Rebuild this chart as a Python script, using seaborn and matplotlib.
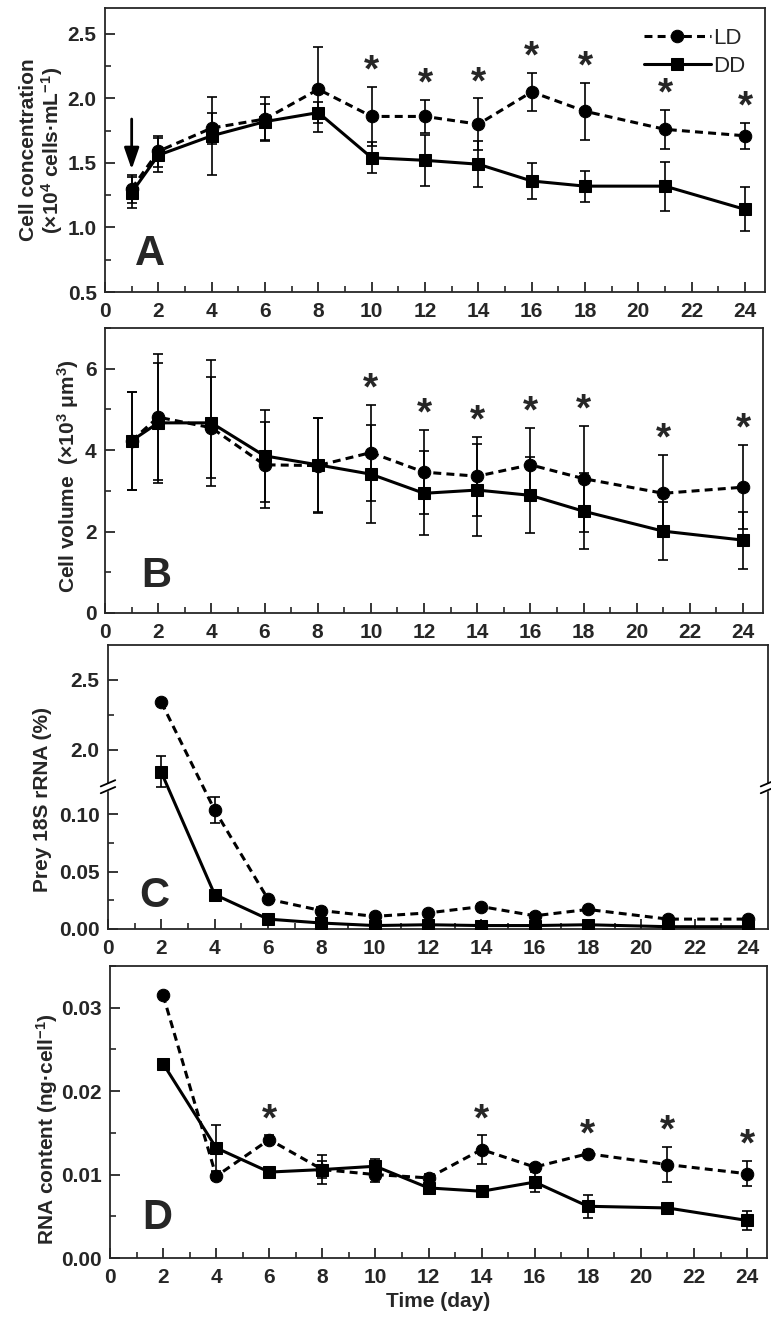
import numpy as np
import pandas as pd
import seaborn as sns
import matplotlib.pyplot as plt
from matplotlib.ticker import MultipleLocator, FixedLocator

# sampling days
days_ab = [1, 2, 4, 6, 8, 10, 12, 14, 16, 18, 21, 24]
days_cd = [2, 4, 6, 8, 10, 12, 14, 16, 18, 21, 24]

# A: cell concentration (x10^4 cells/mL)
conc_ld = [1.30, 1.59, 1.77, 1.84, 2.07, 1.86, 1.86, 1.80, 2.05, 1.90, 1.76, 1.71]
conc_ld_err = [0.11, 0.12, 0.12, 0.17, 0.33, 0.23, 0.13, 0.20, 0.15, 0.22, 0.15, 0.10]
conc_dd = [1.27, 1.56, 1.71, 1.82, 1.89, 1.54, 1.52, 1.49, 1.36, 1.32, 1.32, 1.14]
conc_dd_err = [0.12, 0.13, 0.30, 0.14, 0.08, 0.12, 0.20, 0.18, 0.14, 0.12, 0.19, 0.17]

# B: cell volume (x10^3 um^3)
vol_ld = [4.23, 4.81, 4.55, 3.64, 3.62, 3.94, 3.46, 3.36, 3.64, 3.30, 2.94, 3.09]
vol_ld_err = [1.20, 1.55, 1.24, 1.05, 1.17, 1.18, 1.03, 0.97, 0.90, 1.30, 0.94, 1.03]
vol_dd = [4.23, 4.67, 4.67, 3.86, 3.64, 3.41, 2.94, 3.02, 2.89, 2.50, 2.01, 1.79]
vol_dd_err = [1.20, 1.47, 1.55, 1.13, 1.15, 1.20, 1.03, 1.12, 0.93, 0.94, 0.71, 0.70]

# C: prey 18S rRNA (%)
prey_ld = [2.34, 0.1034, 0.026, 0.016, 0.011, 0.014, 0.0195, 0.0115, 0.017, 0.0086, 0.0086]
prey_ld_err = [0.0, 0.0115, 0.002, 0.003, 0.002, 0.002, 0.002, 0.002, 0.002, 0.001, 0.001]
prey_dd = [1.84, 0.030, 0.0086, 0.0052, 0.003, 0.0037, 0.003, 0.003, 0.0037, 0.002, 0.002]
prey_dd_err = [0.12, 0.001, 0.001, 0.001, 0.0005, 0.0005, 0.0005, 0.0005, 0.0005, 0.0005, 0.0005]

# D: RNA content (ng/cell)
rna_ld = [0.0315, 0.0098, 0.0142, 0.0106, 0.0100, 0.0096, 0.0130, 0.0109, 0.0125, 0.0112, 0.0101]
rna_ld_err = [0.0, 0.0005, 0.0005, 0.0017, 0.0009, 0.0005, 0.0017, 0.0004, 0.0004, 0.0021, 0.0015]
rna_dd = [0.0233, 0.0132, 0.0103, 0.0106, 0.0110, 0.0084, 0.0080, 0.0091, 0.0062, 0.0060, 0.0045]
rna_dd_err = [0.0, 0.0028, 0.0004, 0.0010, 0.0009, 0.0004, 0.0004, 0.0012, 0.0014, 0.0003, 0.0011]

# days with significant difference
star_ab = [10, 12, 14, 16, 18, 21, 24]
star_d = [6, 14, 18, 21, 24]

sns.set_style("ticks")
plt.rcParams['font.family'] = ['Liberation Sans', 'DejaVu Sans']
plt.rcParams['font.weight'] = 'bold'
plt.rcParams['axes.labelweight'] = 'bold'
plt.rcParams['mathtext.fontset'] = 'custom'
plt.rcParams['mathtext.rm'] = 'Liberation Sans:bold'
plt.rcParams['mathtext.it'] = 'Liberation Sans:bold'
plt.rcParams['mathtext.bf'] = 'Liberation Sans:bold'
plt.rcParams['axes.linewidth'] = 1.3

fig = plt.figure(figsize=(7.71, 13.2), dpi=100)


def px_axes(left, top, right, bottom):
    return fig.add_axes([left / 771, 1 - bottom / 1320, (right - left) / 771, (bottom - top) / 1320])


ax_a = px_axes(105, 8, 765, 292)
ax_b = px_axes(105, 328, 763, 613)
ax_c = px_axes(108, 645, 768, 929)
ax_d = px_axes(110, 966, 767, 1258)


def draw_series(ax, days, ld, ld_err, dd, dd_err, legend=False):
    df = pd.DataFrame({
        'day': days + days,
        'value': ld + dd,
        'group': ['LD'] * len(days) + ['DD'] * len(days),
    })
    eb = dict(fmt='none', ecolor='black', elinewidth=1.2, capsize=3.6, capthick=1.2, zorder=2)
    ax.errorbar(days, ld, yerr=ld_err, **eb)
    ax.errorbar(days, dd, yerr=dd_err, **eb)
    sns.lineplot(data=df, x='day', y='value', hue='group', style='group',
                 palette={'LD': 'black', 'DD': 'black'},
                 markers={'LD': 'o', 'DD': 's'},
                 dashes={'LD': (2.6, 1.7), 'DD': ''},
                 markersize=9, linewidth=2.2, markeredgecolor='black',
                 legend=legend, ax=ax, zorder=3)
    ax.set_xlabel('')
    ax.set_ylabel('')


def style_axes(ax):
    ax.set_xlim(0, 24.75)
    ax.xaxis.set_major_locator(MultipleLocator(2))
    ax.xaxis.set_minor_locator(MultipleLocator(1))
    ax.tick_params(axis='x', which='major', direction='in', length=7, width=1.3, labelsize=15, pad=7)
    ax.tick_params(axis='x', which='minor', direction='in', length=4, width=1.2)
    ax.tick_params(axis='y', which='major', direction='in', length=7, width=1.3, labelsize=15, pad=6)
    ax.tick_params(axis='y', which='minor', direction='in', length=4, width=1.2)
    for s in ax.spines.values():
        s.set_visible(True)
        s.set_linewidth(1.3)


def stars(ax, days, vals, errs, star_days, offset=11):
    for d in star_days:
        i = days.index(d)
        ax.annotate('*', xy=(d, vals[i] + errs[i]), xytext=(0, offset),
                    textcoords='offset points', ha='center', va='center',
                    fontsize=28, fontweight='bold')


def panel_letter(ax, letter, x, y):
    ax.text(x, y, letter, transform=ax.transAxes, fontsize=30, fontweight='bold',
            ha='left', va='baseline')


# ---- A ----
draw_series(ax_a, days_ab, conc_ld, conc_ld_err, conc_dd, conc_dd_err, legend=True)
style_axes(ax_a)
ax_a.set_ylim(0.5, 2.7)
ax_a.yaxis.set_major_locator(MultipleLocator(0.5))
ax_a.yaxis.set_minor_locator(MultipleLocator(0.25))
ax_a.set_ylabel('Cell concentration\n(×10$^{4}$ cells·mL$^{-1}$)', fontsize=15, linespacing=1.1)
ax_a.yaxis.set_label_coords(-0.06, 0.5)
stars(ax_a, days_ab, conc_ld, conc_ld_err, star_ab)
ax_a.annotate('', xy=(1, 1.45), xytext=(1, 1.84),
              arrowprops=dict(arrowstyle='-|>,head_length=1.3,head_width=0.45', color='black',
                              lw=2, shrinkA=0, shrinkB=0))
panel_letter(ax_a, 'A', 0.045, 0.095)
handles, labels = ax_a.get_legend_handles_labels()
ax_a.legend(handles, labels, loc='upper right', bbox_to_anchor=(1.0, 1.0), frameon=False,
            handlelength=3.0, handletextpad=0.1, labelspacing=0.3,
            prop={'family': 'Liberation Sans', 'weight': 'normal', 'size': 16})

# ---- B ----
draw_series(ax_b, days_ab, vol_ld, vol_ld_err, vol_dd, vol_dd_err)
style_axes(ax_b)
ax_b.set_ylim(0, 7)
ax_b.yaxis.set_major_locator(MultipleLocator(2))
ax_b.yaxis.set_minor_locator(MultipleLocator(1))
ax_b.set_ylabel('Cell volume  (×10$^{3}$ μm$^{3}$)', fontsize=15)
ax_b.yaxis.set_label_coords(-0.036, 0.48)
stars(ax_b, days_ab, vol_ld, vol_ld_err, star_ab)
panel_letter(ax_b, 'B', 0.055, 0.09)

# ---- C (broken y axis) ----
brk_val = [-1.0, 0.0, 0.1235, 1.736, 2.75, 10.0]
brk_pos = [-8.097, 0.0, 1.0, 1.001, 2.0, 9.14]


def fwd(y):
    return np.interp(y, brk_val, brk_pos)


def inv(y):
    return np.interp(y, brk_pos, brk_val)


ax_c.set_yscale('function', functions=(fwd, inv))
draw_series(ax_c, days_cd, prey_ld, prey_ld_err, prey_dd, prey_dd_err)
style_axes(ax_c)
ax_c.set_ylim(0, 2.75)
ax_c.yaxis.set_major_locator(FixedLocator([0.0, 0.05, 0.10, 2.0, 2.5]))
ax_c.yaxis.set_minor_locator(FixedLocator([0.025, 0.075, 2.25]))
ax_c.set_yticklabels(['0.00', '0.05', '0.10', '2.0', '2.5'])
ax_c.set_ylabel('Prey 18S rRNA (%)', fontsize=15)
ax_c.yaxis.set_label_coords(-0.085, 0.455)
panel_letter(ax_c, 'C', 0.047, 0.077)
for xs in (0.0, 1.0):
    ax_c.fill_between([xs - 0.006, xs + 0.006], [0.49, 0.49], [0.512, 0.512],
                      transform=ax_c.transAxes, color='white', clip_on=False, zorder=5)
    for dy in (-0.012, 0.012):
        ax_c.plot([xs - 0.011, xs + 0.011], [0.49 + dy, 0.512 + dy], transform=ax_c.transAxes,
                  color='black', lw=1.3, clip_on=False, zorder=6)

# ---- D ----
draw_series(ax_d, days_cd, rna_ld, rna_ld_err, rna_dd, rna_dd_err)
style_axes(ax_d)
ax_d.set_ylim(0, 0.035)
ax_d.yaxis.set_major_locator(MultipleLocator(0.01))
ax_d.yaxis.set_minor_locator(MultipleLocator(0.005))
ax_d.yaxis.set_major_formatter(plt.FormatStrFormatter('%.2f'))
ax_d.set_ylabel('RNA content (ng·cell$^{-1}$)', fontsize=15)
ax_d.yaxis.set_label_coords(-0.076, 0.44)
ax_d.set_xlabel('Time (day)', fontsize=15)
stars(ax_d, days_cd, rna_ld, rna_ld_err, star_d)
panel_letter(ax_d, 'D', 0.049, 0.10)

fig.savefig('out.png', dpi=100)
